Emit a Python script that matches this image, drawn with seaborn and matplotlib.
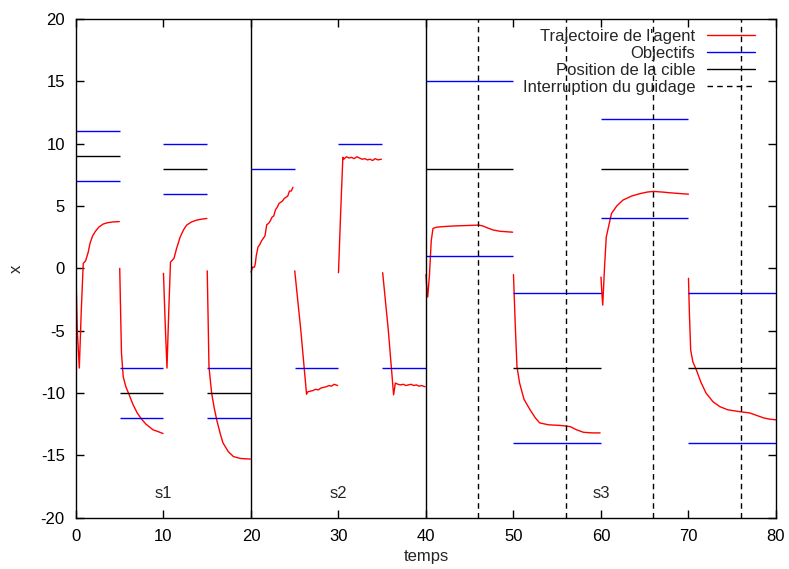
import numpy as np
import pandas as pd
import seaborn as sns
import matplotlib.pyplot as plt
from matplotlib.lines import Line2D

# Trajectoire de l'agent, un segment par consigne (5 s chacun)
seg_t = [
    [0, 0.15, 0.38, 0.6, 0.83, 1.1, 1.4, 1.6, 1.9, 2.2, 2.6, 3.1, 3.6, 4.2, 4.95],
    [5.0, 5.1, 5.2, 5.4, 5.7, 6.0, 6.5, 7.0, 7.5, 8.0, 8.8, 9.4, 9.95],
    [10.0, 10.2, 10.4, 10.6, 10.8, 11.2, 11.5, 11.9, 12.3, 12.65, 13.2, 13.8, 14.4, 14.95],
    [15.0, 15.1, 15.2, 15.5, 15.8, 16.1, 16.5, 16.8, 17.4, 18.0, 18.8, 19.95],
    [20.0, 20.2, 20.4, 20.5, 20.6, 20.8, 21.0, 21.2, 21.4, 21.6, 21.8, 22.0, 22.2,
     22.4, 22.6, 22.8, 23.0, 23.2, 23.4, 23.6, 23.8, 24.0, 24.2, 24.4, 24.6, 24.8],
    [25.0, 25.7, 26.35, 26.5, 26.8, 27.1, 27.4, 27.7, 28.0, 28.3, 28.6, 28.9, 29.2, 29.5, 29.9],
    [30.0, 30.25, 30.5, 30.6, 30.9, 31.2, 31.5, 31.8, 32.1, 32.4, 32.7, 33.0, 33.3,
     33.6, 33.9, 34.2, 34.5, 34.9],
    [35.05, 35.7, 36.3, 36.5, 36.8, 37.1, 37.4, 37.7, 38.0, 38.3, 38.6, 38.9, 39.2, 39.5, 39.9],
    [40.0, 40.1, 40.2, 40.4, 40.6, 40.8, 41.2, 42.0, 43.2, 44.5, 46.0, 46.5, 47.0, 47.7, 48.5, 49.9],
    [50.0, 50.2, 50.4, 50.7, 51.2, 51.9, 52.5, 53.0, 54.0, 55.3, 56.0, 56.5, 57.2, 58.0, 59.0, 59.9],
    [60.0, 60.1, 60.2, 60.4, 60.6, 61.2, 61.8, 62.5, 63.5, 64.5, 65.3, 66.0, 67.0, 67.9, 69.0, 70.0],
    [70.0, 70.1, 70.25, 70.5, 70.9, 71.4, 72.0, 72.8, 73.6, 74.5, 75.9, 77.0, 77.8, 78.6, 79.3, 80.0],
]
seg_x = [
    [-0.5, -5, -8.0, -3.5, 0.4, 0.6, 1.3, 2.0, 2.6, 2.95, 3.3, 3.55, 3.66, 3.72, 3.75],
    [0, -3.5, -6.8, -8.7, -9.5, -10.0, -10.9, -11.6, -12.1, -12.5, -12.95, -13.1, -13.25],
    [-0.4, -4.5, -8.0, -3.5, 0.5, 0.8, 1.6, 2.5, 3.1, 3.47, 3.72, 3.87, 3.95, 4.0],
    [-0.2, -4, -7.9, -10.0, -11.2, -12.2, -13.3, -14.0, -14.7, -15.1, -15.25, -15.3],
    [-0.3, 0.1, 0.1, 0.4, 1.0, 1.7, 1.9, 2.2, 2.4, 2.6, 3.5, 3.6, 3.8,
     4.1, 4.2, 4.7, 4.9, 5.2, 5.3, 5.4, 5.6, 5.7, 5.8, 6.2, 6.2, 6.5],
    [-0.2, -5.0, -10.1, -9.9, -9.85, -9.8, -9.7, -9.75, -9.6, -9.55, -9.5, -9.4, -9.45, -9.3, -9.4],
    [-0.35, 4.5, 8.9, 8.75, 8.95, 8.85, 8.9, 8.8, 8.95, 8.85, 8.75, 8.8, 8.7,
     8.75, 8.65, 8.8, 8.7, 8.75],
    [-0.35, -5.0, -10.15, -9.2, -9.3, -9.35, -9.3, -9.4, -9.35, -9.3, -9.4, -9.35, -9.45, -9.4, -9.5],
    [-0.5, -1.6, -2.3, -0.5, 2.2, 3.2, 3.3, 3.35, 3.4, 3.43, 3.47, 3.4, 3.25, 3.07, 2.97, 2.9],
    [-0.5, -4.5, -7.9, -9.2, -10.5, -11.35, -12.0, -12.4, -12.55, -12.6, -12.65, -12.7, -12.95, -13.15, -13.2, -13.2],
    [-0.7, -2.0, -2.95, 0.0, 2.5, 4.4, 5.0, 5.47, 5.8, 6.0, 6.12, 6.17, 6.12, 6.06, 6.0, 5.95],
    [-0.8, -3.5, -6.55, -7.5, -8.15, -9.1, -10.0, -10.7, -11.1, -11.35, -11.5, -11.6, -11.8, -12.0, -12.1, -12.15],
]

# Objectifs (bleu) : debut, fin, niveau
obj_debut = [0, 0, 5, 5, 10, 10, 15, 15, 20, 25, 30, 35, 40, 40, 50, 50, 60, 60, 70, 70]
obj_fin = [5, 5, 10, 10, 15, 15, 20, 20, 25, 30, 35, 40, 50, 50, 60, 60, 70, 70, 80, 80]
obj_niveau = [11, 7, -8, -12, 10, 6, -8, -12, 8, -8, 10, -8, 15, 1, -2, -14, 12, 4, -2, -14]

# Position de la cible (noir)
cible_debut = [0, 5, 10, 15, 40, 50, 60, 70]
cible_fin = [5, 10, 15, 20, 50, 60, 70, 80]
cible_niveau = [9, -10, 8, -10, 8, -8, 8, -8]

# Interruptions du guidage et separations des scenarios
interruptions = [46, 56, 66, 76]
separations = [20, 40]
scenarios = ['s1', 's2', 's3']
scenario_t = [10, 30, 60]

rows = []
for i, (ts, xs) in enumerate(zip(seg_t, seg_x)):
    for t, x in zip(ts, xs):
        rows.append({'temps': t, 'x': x, 'seg': i})
df = pd.DataFrame(rows)

sns.set_style("ticks")
plt.rcParams['font.family'] = ['Liberation Sans', 'DejaVu Sans']
plt.rcParams['axes.unicode_minus'] = False

fig = plt.figure(figsize=(7.89, 5.69), dpi=100)
ax = fig.add_axes([0.0963, 0.0902, 0.9835 - 0.0963, 0.9666 - 0.0902])

sns.lineplot(data=df, x='temps', y='x', units='seg', estimator=None, sort=False,
             color='red', lw=1.0, ax=ax)
ax.hlines(obj_niveau, obj_debut, obj_fin, colors='blue', lw=1.0)
ax.hlines(cible_niveau, cible_debut, cible_fin, colors='black', lw=1.0)
for s in separations:
    ax.axvline(s, color='black', lw=1.0)
for s in interruptions:
    ax.axvline(s, color='black', lw=1.0, ls=(0, (4, 3)))
for nom, t in zip(scenarios, scenario_t):
    ax.text(t, -18.1, nom, ha='center', va='center', fontsize=12)

ax.set_xlim(0, 80)
ax.set_ylim(-20, 20)
ax.set_xticks(np.arange(0, 81, 10))
ax.set_yticks(np.arange(-20, 21, 5))
ax.tick_params(direction='in', top=True, right=True, length=6, width=1,
               labelsize=12, pad=8, colors='black')
for sp in ax.spines.values():
    sp.set_linewidth(1.0)
    sp.set_color('black')
ax.set_xlabel('temps', fontsize=12, labelpad=4)
ax.set_ylabel('x', fontsize=12, labelpad=12)

handles = [
    Line2D([], [], color='red', lw=1.0),
    Line2D([], [], color='blue', lw=1.0),
    Line2D([], [], color='black', lw=1.0),
    Line2D([], [], color='black', lw=1.0, ls=(0, (4, 3))),
]
labels = ["Trajectoire de l'agent", 'Objectifs', 'Position de la cible', 'Interruption du guidage']
ax.legend(handles, labels, loc='upper right', bbox_to_anchor=(0.985, 1.0),
          frameon=False, markerfirst=False, fontsize=12, handlelength=2.9,
          handletextpad=0.7, labelspacing=0.12, borderaxespad=0.2)

fig.savefig('out.png', dpi=100)
